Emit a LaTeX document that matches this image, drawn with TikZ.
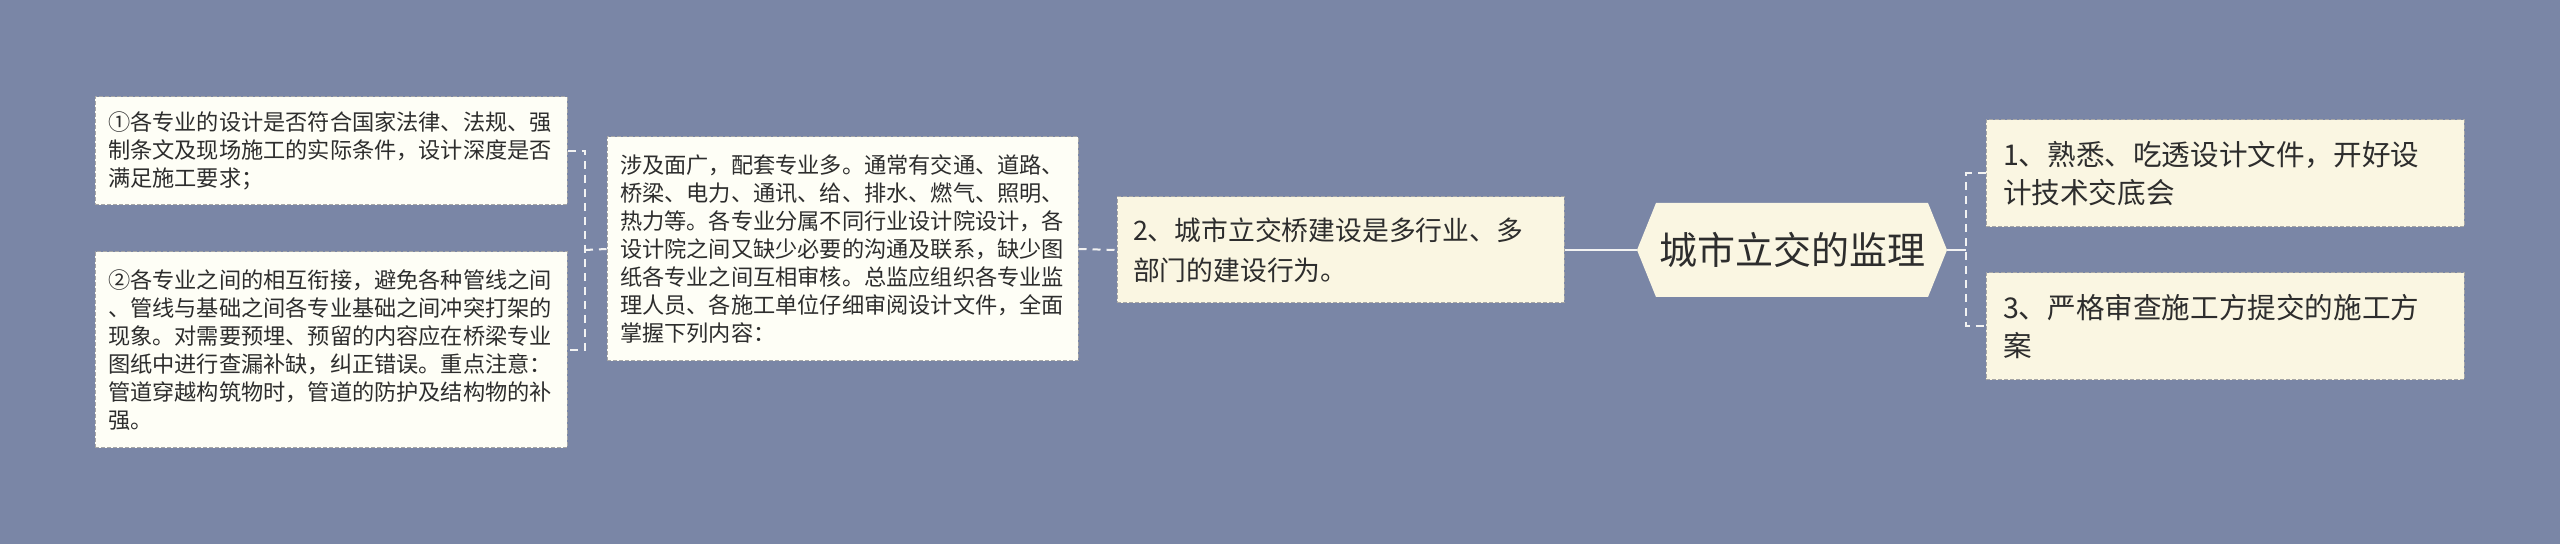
\documentclass[tikz,border=0pt]{standalone}
\usepackage{fontspec}
\setmainfont{Noto Sans CJK SC}
\usetikzlibrary{shapes.symbols}
\definecolor{bgblue}{RGB}{122,134,166}
\definecolor{paper}{RGB}{254,254,246}
\definecolor{cream}{RGB}{250,246,226}
\definecolor{ink}{RGB}{45,45,45}
\definecolor{linkwhite}{RGB}{242,242,242}
\tikzset{
  detail/.style={draw=gray!70, dash pattern=on 2pt off 1pt, line width=0.5pt, fill=paper, text=ink,
    align=left, inner xsep=6.5pt, inner ysep=0pt, font=\fontsize{11.1pt}{14pt}\selectfont},
  topic/.style={detail, fill=cream},
  hub/.style={signal, signal to=east and west, signal pointer angle=136, fill=cream, text=ink,
    inner sep=0pt, font=\fontsize{19pt}{22pt}\selectfont},
  link/.style={draw=linkwhite, line width=1pt},
  dashlink/.style={link, dash pattern=on 4pt off 3pt},
}
\begin{document}
\begin{tikzpicture}[x=0.5pt, y=-0.5pt]
    \useasboundingbox[fill=bgblue] (0,0) rectangle (2560,544);

    % Centre topic
    \node[hub, minimum width=155pt, minimum height=47pt] (root) at (1792,250) {城市立交的监理};

    % Left branch
    \node[topic, text width=207.5pt, inner xsep=8pt, minimum height=53pt,
          font=\fontsize{13.4pt}{20pt}\selectfont] (multi) at (1340.5,250)
          {2、城市立交桥建设是多行业、多\\部门的建设行为。};
    \node[detail, text width=222.5pt, minimum height=112pt] (scope) at (842.5,249)
          {涉及面广，配套专业多。通常有交通、道路、\\桥梁、电力、通讯、给、排水、燃气、照明、\\热力等。各专业分属不同行业设计院设计，各\\设计院之间又缺少必要的沟通及联系，缺少图\\纸各专业之间互相审核。总监应组织各专业监\\理人员、各施工单位仔细审阅设计文件，全面\\掌握下列内容：};
    \node[detail, text width=223pt, minimum height=54pt] (rule) at (331,151)
          {①各专业的设计是否符合国家法律、法规、强\\制条文及现场施工的实际条件，设计深度是否\\满足施工要求；};
    \node[detail, text width=223pt, minimum height=98pt] (joint) at (331,350)
          {②各专业之间的相互衔接，避免各种管线之间\\、管线与基础之间各专业基础之间冲突打架的\\现象。对需要预埋、预留的内容应在桥梁专业\\图纸中进行查漏补缺，纠正错误。重点注意：\\管道穿越构筑物时，管道的防护及结构物的补\\强。};

    % Right branch
    \node[topic, text width=222pt, inner xsep=8.5pt, minimum height=53.5pt,
          font=\fontsize{14.3pt}{19pt}\selectfont] (brief) at (2225,173.5)
          {1、熟悉、吃透设计文件，开好设\\计技术交底会};
    \node[topic, text width=222pt, inner xsep=8.5pt, minimum height=53.5pt,
          font=\fontsize{14.3pt}{19pt}\selectfont] (review) at (2225,326.5)
          {3、严格审查施工方提交的施工方\\案};

    % Connections
    \coordinate (lfork) at (585,250);
    \coordinate (rfork) at (1966,250);
    \draw[dashlink] (rule.east) -| (lfork) |- (joint.east);
    \draw[dashlink] (lfork) -- (scope.west);
    \draw[dashlink] (scope.east) -- (multi.west);
    \draw[link] (multi.east) -- (root.west);
    \draw[link] (root.east) -- (rfork);
    \draw[dashlink] (brief.west) -| (rfork) |- (review.west);
\end{tikzpicture}
\end{document}
